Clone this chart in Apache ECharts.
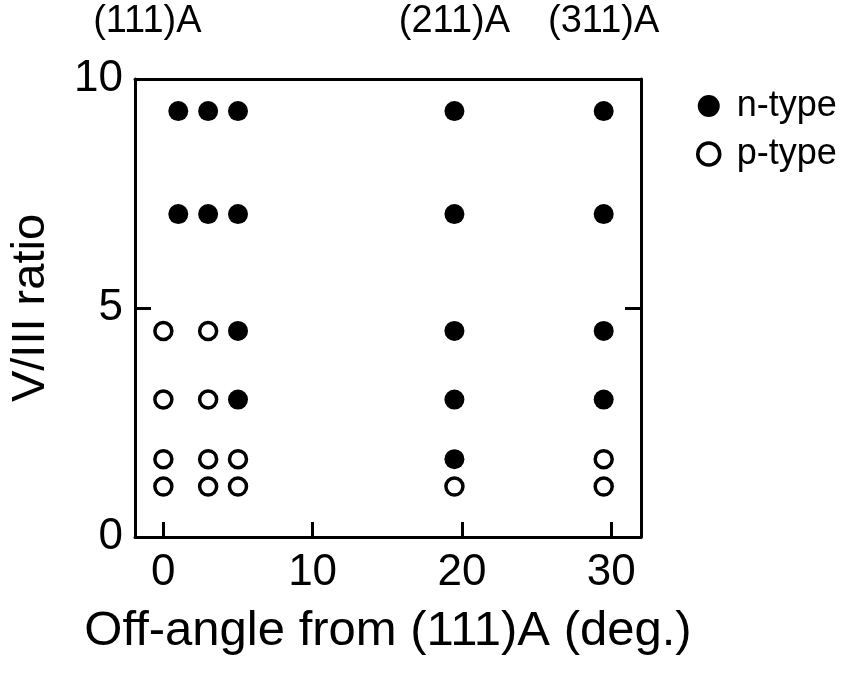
<!DOCTYPE html>
<html>
<head>
<meta charset="utf-8">
<script src="https://cdn.jsdelivr.net/npm/echarts@6/dist/echarts.min.js"></script>
<style>html,body{margin:0;padding:0;background:#fff}#c{width:846px;height:675px}</style>
</head>
<body>
<div id="c"></div>
<script>
// Data
const nTypeX = [1, 1, 3, 3, 5, 5, 5, 5, 19.5, 19.5, 19.5, 19.5, 19.5, 29.5, 29.5, 29.5, 29.5];
const nTypeY = [9.3, 7.05, 9.3, 7.05, 9.3, 7.05, 4.5, 3.0, 9.3, 7.05, 4.5, 3.0, 1.7, 9.3, 7.05, 4.5, 3.0];
const pTypeX = [0, 0, 0, 0, 3, 3, 3, 3, 5, 5, 19.5, 29.5, 29.5];
const pTypeY = [4.5, 3.0, 1.7, 1.1, 4.5, 3.0, 1.7, 1.1, 1.7, 1.1, 1.1, 1.7, 1.1];
const xTicks = [0, 10, 20, 30];
const yTicks = [0, 5, 10];
const topLabelNames = ['(111)A', '(211)A', '(311)A'];
const topLabelAngles = [0, 19.5, 29.5];
const seriesNames = ['n-type', 'p-type'];

const FONT = '"Liberation Sans", Arial, Helvetica, sans-serif';
const chart = echarts.init(document.getElementById('c'), null, {renderer: 'canvas'});

const zip = (xs, ys) => xs.map((x, i) => [x, ys[i]]);

const option = {
  backgroundColor: '#fff',
  animation: false,
  textStyle: {fontFamily: FONT, color: '#000'},
  grid: {left: 129, right: 205, top: 79, bottom: 138, containLabel: false},
  legend: {
    orient: 'vertical',
    left: 691, top: 83,
    itemGap: 12,
    itemWidth: 22, itemHeight: 22,
    textStyle: {fontFamily: FONT, fontSize: 36, color: '#000', padding: [0, 0, 0, 12]},
    data: [
      {name: seriesNames[0], icon: 'circle', itemStyle: {color: '#000', borderWidth: 0, opacity: 1}},
      {name: seriesNames[1], icon: 'circle', itemStyle: {color: '#fff', borderColor: '#000', borderWidth: 3.5, opacity: 1}}
    ]
  },
  xAxis: [
    {
      type: 'value', min: -1.9, max: 32, position: 'bottom',
      name: 'Off-angle from (111)A (deg.)', nameLocation: 'middle', nameGap: 70,
      nameTextStyle: {fontFamily: FONT, fontSize: 49, color: '#000'},
      axisLine: {show: true, onZero: false, lineStyle: {color: '#000', width: 3}},
      axisTick: {show: true, inside: true, length: 15, customValues: xTicks, lineStyle: {color: '#000', width: 3}},
      axisLabel: {show: true, customValues: xTicks, margin: 14, fontFamily: FONT, fontSize: 44, color: '#000'},
      splitLine: {show: false}
    },
    {
      type: 'value', min: -1.9, max: 32, position: 'top',
      axisLine: {show: true, onZero: false, lineStyle: {color: '#000', width: 3}},
      axisTick: {show: false},
      axisLabel: {
        show: true, customValues: topLabelAngles, margin: 38,
        fontFamily: FONT, fontSize: 38, color: '#000',
        formatter: function (v) {
          const i = topLabelAngles.indexOf(v);
          if (i < 0) return '';
          return i === 0 ? '{a|' + topLabelNames[i] + '}' : topLabelNames[i];
        },
        rich: {a: {fontFamily: FONT, fontSize: 38, color: '#000', padding: [0, 32, 0, 0]}}
      },
      splitLine: {show: false}
    }
  ],
  yAxis: [
    {
      type: 'value', min: 0, max: 10, interval: 5, position: 'left',
      name: 'V/III ratio', nameLocation: 'middle', nameGap: 80,
      nameTextStyle: {fontFamily: FONT, fontSize: 47, color: '#000'},
      axisLine: {show: true, onZero: false, lineStyle: {color: '#000', width: 3}},
      axisTick: {show: true, inside: true, length: 16, lineStyle: {color: '#000', width: 3}},
      axisLabel: {show: true, margin: 12, fontFamily: FONT, fontSize: 44, color: '#000'},
      splitLine: {show: false}
    },
    {
      type: 'value', min: 0, max: 10, interval: 5, position: 'right',
      axisLine: {show: true, onZero: false, lineStyle: {color: '#000', width: 3}},
      axisTick: {show: true, inside: true, length: 16, lineStyle: {color: '#000', width: 3}},
      axisLabel: {show: false},
      splitLine: {show: false}
    }
  ],
  series: [
    {
      name: seriesNames[0], type: 'scatter', xAxisIndex: 0, yAxisIndex: 0,
      symbol: 'circle', symbolSize: 20,
      itemStyle: {color: '#000', opacity: 1},
      data: zip(nTypeX, nTypeY)
    },
    {
      name: seriesNames[1], type: 'scatter', xAxisIndex: 0, yAxisIndex: 0,
      symbol: 'circle', symbolSize: 17,
      itemStyle: {color: '#fff', borderColor: '#000', borderWidth: 3.5, opacity: 1},
      data: zip(pTypeX, pTypeY)
    }
  ]
};
chart.setOption(option);
</script>
</body>
</html>
